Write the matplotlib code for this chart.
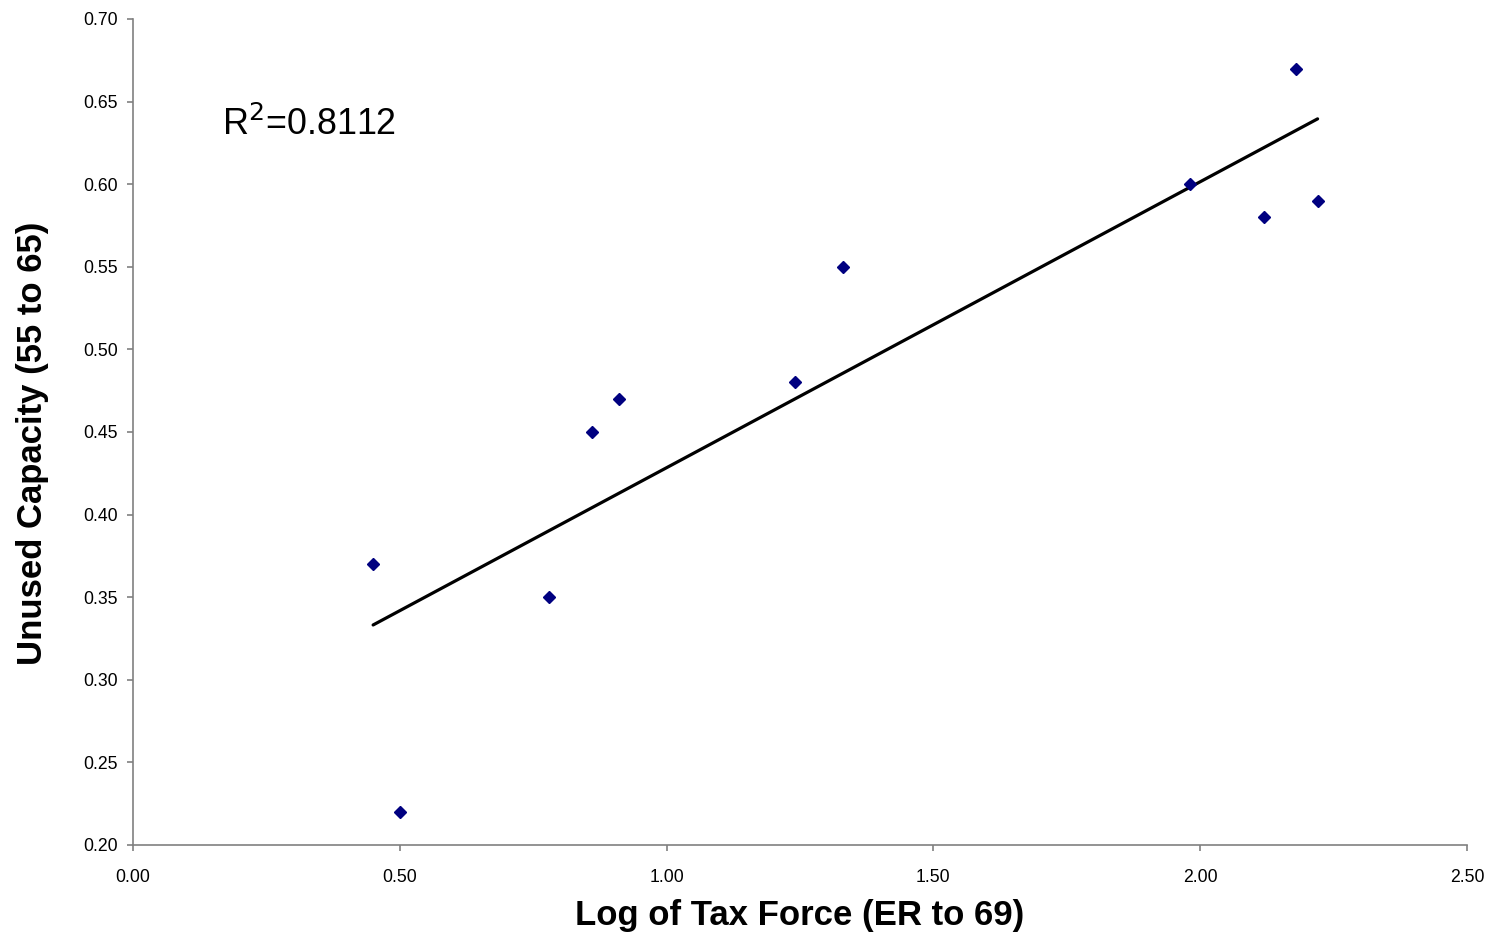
import numpy as np
import matplotlib
matplotlib.use('Agg')
import matplotlib.pyplot as plt
from matplotlib import rcParams

rcParams['font.family'] = ['Liberation Sans', 'DejaVu Sans']

# log of tax force vs unused capacity
tax_force = [0.45, 0.50, 0.78, 0.86, 0.91, 1.24, 1.33, 1.98, 2.12, 2.18, 2.22]
unused_cap = [0.37, 0.22, 0.35, 0.45, 0.47, 0.48, 0.55, 0.60, 0.58, 0.67, 0.59]
r2_label = 'R$^2$=0.8112'

x_ticks = [0.0, 0.5, 1.0, 1.5, 2.0, 2.5]
y_ticks = [0.20, 0.25, 0.30, 0.35, 0.40, 0.45, 0.50, 0.55, 0.60, 0.65, 0.70]

fig = plt.figure(figsize=(14.91, 9.35), dpi=100)
ax = fig.add_axes([0.0892, 0.0963, 0.8947, 0.8834])

# linear trend line
slope, icpt = np.polyfit(tax_force, unused_cap, 1)
xs = np.array([min(tax_force), max(tax_force)])
ax.plot(xs, slope * xs + icpt, color='black', lw=2.3, solid_capstyle='round')

ax.plot(tax_force, unused_cap, linestyle='none', marker='D', markersize=6.5,
        color='#000080')

ax.set_xlim(0, 2.5)
ax.set_ylim(0.2, 0.7)
ax.set_xticks(x_ticks)
ax.set_yticks(y_ticks)
ax.xaxis.set_major_formatter(matplotlib.ticker.FormatStrFormatter('%.2f'))
ax.yaxis.set_major_formatter(matplotlib.ticker.FormatStrFormatter('%.2f'))

for s in ['top', 'right']:
    ax.spines[s].set_visible(False)
for s in ['left', 'bottom']:
    ax.spines[s].set_color('#808080')
    ax.spines[s].set_linewidth(1.2)
ax.tick_params(direction='out', length=4, width=1.2, color='#808080',
               labelsize=12.7)
ax.tick_params(axis='y', pad=7)
ax.tick_params(axis='x', pad=13.5)

ax.set_xlabel('Log of Tax Force (ER to 69)', fontsize=25, fontweight='bold', labelpad=9.5)
ax.set_ylabel('Unused Capacity (55 to 65)', fontsize=25, fontweight='bold', va='center')
ax.yaxis.set_label_coords(-0.0757, 0.486)

ax.text(0.166, 0.636, r2_label, fontsize=25.8, ha='left', va='center')

fig.savefig('out.png', dpi=100, facecolor='white')
